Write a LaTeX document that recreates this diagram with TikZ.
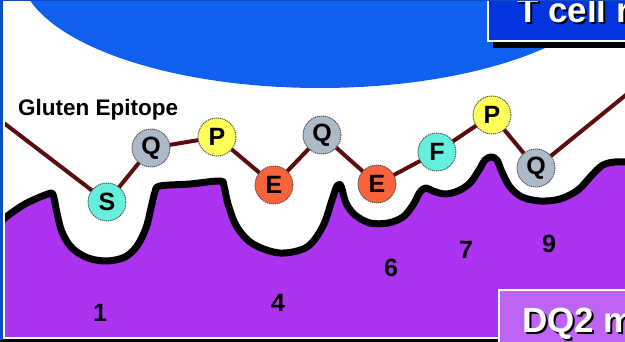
\documentclass[tikz,border=0pt]{standalone}
\usepackage{fontspec}
\setmainfont{Liberation Sans}
\definecolor{cellblue}{RGB}{16,96,240}
\definecolor{tboxblue}{RGB}{4,52,222}
\definecolor{dqpurple}{RGB}{172,52,240}
\definecolor{dqbox}{RGB}{190,100,245}
\definecolor{chainred}{RGB}{92,12,12}
\definecolor{rescyan}{RGB}{100,240,220}
\definecolor{resgrey}{RGB}{172,186,200}
\definecolor{resyellow}{RGB}{255,255,90}
\definecolor{resorange}{RGB}{250,100,60}
\pgfdeclarelayer{base}
\pgfdeclarelayer{chainlayer}
\pgfsetlayers{base,chainlayer,main}
% outline of the DQ2 surface, pockets included
\def\surfacepoints{
    (-5,226) (10,214) (25,204) (40,197) (48,194) (52,193) (54,198) (57,213)
    (62,232) (72,248) (88,258) (107,261) (125,257) (137,246) (146,228)
    (151,208) (155,192) (160,186)
    (190,184) (220,181) (224,186) (228,204) (237,227) (253,244)
    (280,253) (307,247) (323,226) (332,200) (337,186) (341,186)
    (346,203) (355,215) (370,223) (388,223) (403,217) (413,205) (420,192)
    (426,188) (433,191) (445,194) (458,191) (470,183) (479,170) (485,160)
    (491,157) (497,160) (502,172) (510,187) (522,197) (540,201) (560,199)
    (578,190) (592,175) (603,165) (615,162) (630,162)}
\begin{document}
\begin{tikzpicture}[x=1pt,y=-1pt,
  res/.style={circle, minimum size=38pt, inner sep=0pt, draw=gray!60!black,
    dash pattern=on 1.2pt off 0.8pt, line width=0.9pt,
    font=\fontsize{25}{25}\selectfont\bfseries},
  chain/.style={draw=chainred, line width=4pt},
  pocketnum/.style={font=\fontsize{25}{25}\selectfont\bfseries, inner sep=0pt},
  titletext/.style={font=\fontsize{35}{35}\selectfont\bfseries, inner sep=0pt, anchor=base west}]
\useasboundingbox (0,0) rectangle (625,342);
\clip (0,0) rectangle (625,342);

\begin{pgfonlayer}{base}
  % background and T cell body
  \fill[white] (0,0) rectangle (625,342);
  \fill[cellblue] (320,-30) ellipse [x radius=300pt, y radius=118pt];
  % DQ2 surface with its binding pockets
  \fill[dqpurple] plot[smooth, tension=0.55] coordinates {\surfacepoints}
    -- (630,345) -- (-5,345) -- cycle;
  \draw[black, line width=7pt, line join=round]
    plot[smooth, tension=0.55] coordinates {\surfacepoints};
\end{pgfonlayer}

% peptide residues
\node[res, fill=rescyan]   (s)  at (107,202) {S};
\node[res, fill=resgrey]   (q1) at (151,148) {Q};
\node[res, fill=resyellow] (p1) at (217,137) {P};
\node[res, fill=resorange] (e1) at (274,185) {E};
\node[res, fill=resgrey]   (q2) at (322,135) {Q};
\node[res, fill=resorange] (e2) at (377,184) {E};
\node[res, fill=rescyan]   (f)  at (437,152) {F};
\node[res, fill=resyellow] (p2) at (492,115) {P};
\node[res, fill=resgrey]   (q3) at (536,168) {Q};
\coordinate (cl) at (-4,117);
\coordinate (cr) at (632,90);

\begin{pgfonlayer}{chainlayer}
  \draw[chain] (cl) -- (s.center) -- (q1.center) -- (p1.center) -- (e1.center)
    -- (q2.center) -- (e2.center) -- (f.center) -- (p2.center) -- (q3.center) -- (cr);
\end{pgfonlayer}

\node[font=\fontsize{22.5}{22.5}\selectfont\bfseries, inner sep=0pt, anchor=base west]
  (epitope) at (18,116) {Gluten Epitope};

% pocket numbers
\node[pocketnum] (n1) at (100,313) {1};
\node[pocketnum] (n4) at (278,303) {4};
\node[pocketnum] (n6) at (391,268) {6};
\node[pocketnum] (n7) at (466,250) {7};
\node[pocketnum] (n9) at (549,244) {9};

% T cell receptor label box
\fill[black] (493,-10) rectangle (640,48);
\filldraw[fill=tboxblue, draw=white, line width=2pt] (488,-10) rectangle (640,41);
\node[titletext, text=black] (tcellsh) at (519,25) {T cell r};
\node[titletext, text=white] (tcell) at (517,23) {T cell r};

% DQ2 label box
\fill[black] (0,339) rectangle (625,345);
\fill[white] (4,337) rectangle (625,339);
\filldraw[fill=dqbox, draw=white, line width=2pt] (499,290) rectangle (640,350);
\node[titletext, text=black] (dqsh) at (524,335) {DQ2 m};
\node[titletext, text=white] (dq) at (522,333) {DQ2 m};

% frame edges
\fill[white] (3,0) rectangle (4.5,339);
\fill[cellblue!80!black] (0,0) rectangle (3,340);
\fill[cellblue!80!black] (0,0) rectangle (625,1.5);
\end{tikzpicture}
\end{document}
